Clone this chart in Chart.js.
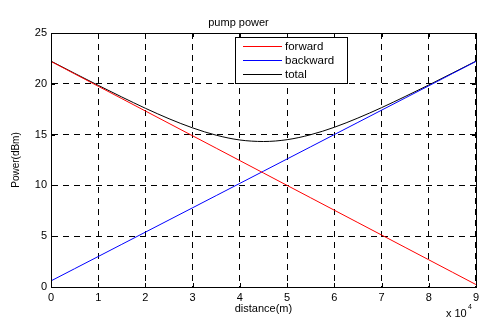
<!DOCTYPE html>
<html>
<head>
<meta charset="utf-8">
<script src="https://cdn.jsdelivr.net/npm/chart.js@4/dist/chart.umd.min.js"></script>
<style>
  html, body { margin: 0; padding: 0; background: #fff; }
</style>
</head>
<body>
<canvas id="pump_chart" width="483" height="328"></canvas>
<script>
// distance in units of 1e4 m
const distance = [0, 0.5, 1, 1.5, 2, 2.5, 3, 3.5, 4, 4.5, 5, 5.5, 6, 6.5, 7, 7.5, 8, 8.5, 9];
// power in dBm
const forward = [22.2, 20.98, 19.76, 18.54, 17.32, 16.1, 14.88, 13.66, 12.44, 11.22, 10.0, 8.78, 7.56, 6.34, 5.12, 3.9, 2.68, 1.46, 0.24];
const backward = [0.6, 1.8, 3.0, 4.2, 5.4, 6.6, 7.8, 9.0, 10.2, 11.4, 12.6, 13.8, 15.0, 16.2, 17.4, 18.6, 19.8, 21.0, 22.2];
const total = [22.23, 21.03, 19.85, 18.7, 17.59, 16.56, 15.66, 14.94, 14.47, 14.32, 14.5, 14.99, 15.72, 16.63, 17.65, 18.75, 19.88, 21.05, 22.23];

const seriesNames = ['forward', 'backward', 'total'];
const seriesColors = ['#ff0000', '#0000ff', '#000000'];

const FONT = 'Liberation Sans, Arial, Helvetica, sans-serif';

function toPoints(ys) {
    return distance.map((x, i) => ({ x: x, y: ys[i] }));
}

//box, inward ticks, exponent label and legend like matlab
const matlabFrame = {
    id: 'matlabFrame',
    afterDraw(chart) {
        const ctx = chart.ctx;
        const a = chart.chartArea;
        const xs = chart.scales.x;
        const ys = chart.scales.y;
        ctx.save();
        ctx.strokeStyle = '#000';
        ctx.lineWidth = 1;
        ctx.setLineDash([]);
        ctx.strokeRect(Math.round(a.left) + 0.5, Math.round(a.top) + 0.5,
            Math.round(a.right - a.left), Math.round(a.bottom - a.top));

        // inward ticks
        ctx.beginPath();
        xs.ticks.forEach(t => {
            const px = Math.round(xs.getPixelForValue(t.value)) + 0.5;
            ctx.moveTo(px, a.bottom); ctx.lineTo(px, a.bottom - 4);
            ctx.moveTo(px, a.top); ctx.lineTo(px, a.top + 4);
        });
        ys.ticks.forEach(t => {
            const py = Math.round(ys.getPixelForValue(t.value)) + 0.5;
            ctx.moveTo(a.left, py); ctx.lineTo(a.left + 4, py);
            ctx.moveTo(a.right, py); ctx.lineTo(a.right - 4, py);
        });
        ctx.stroke();

        // x 10^4
        ctx.fillStyle = '#000';
        ctx.textBaseline = 'middle';
        ctx.textAlign = 'left';
        ctx.font = '11px ' + FONT;
        ctx.fillText('x 10', a.right - 30, 314);
        ctx.font = '7px ' + FONT;
        ctx.fillText('4', a.right - 8, 307);

        // legend
        const lx = a.left + 184, ly = a.top + 4, lw = 112, lh = 46;
        ctx.fillStyle = '#fff';
        ctx.fillRect(lx, ly, lw, lh);
        ctx.strokeRect(lx + 0.5, ly + 0.5, lw, lh);
        ctx.font = '11.5px ' + FONT;
        chart.data.datasets.forEach((ds, i) => {
            const ry = ly + 9 + i * 14;
            ctx.strokeStyle = ds.borderColor;
            ctx.beginPath();
            ctx.moveTo(lx + 8, ry + 0.5);
            ctx.lineTo(lx + 47, ry + 0.5);
            ctx.stroke();
            ctx.fillStyle = '#000';
            ctx.fillText(ds.label, lx + 50, ry + 1);
        });
        ctx.restore();
    }
};

const ctxPump = document.getElementById('pump_chart').getContext('2d');
const pumpChart = new Chart(ctxPump, {
    type: 'line',
    data: {
        datasets: [forward, backward, total].map((ys, i) => ({
            label: seriesNames[i],
            data: toPoints(ys),
            borderColor: seriesColors[i],
            backgroundColor: seriesColors[i],
            borderWidth: 1,
            pointRadius: 0,
            tension: 0,
            cubicInterpolationMode: 'monotone'
        }))
    },
    options: {
        responsive: false,
        animation: false,
        layout: { padding: { left: 0, right: 6, top: 0, bottom: 0 } },
        scales: {
            x: {
                type: 'linear',
                min: 0,
                max: 9,
                afterFit: s => { s.height = 41; },
                ticks: { stepSize: 1, padding: 4, color: '#000', font: { family: FONT, size: 11 } },
                grid: { color: '#000', drawTicks: false, lineWidth: 1 },
                border: { color: '#000', dash: [6, 5] },
                title: { display: true, text: 'distance(m)', color: '#000', padding: { top: 0, bottom: 12.5 }, font: { family: FONT, size: 11 } }
            },
            y: {
                min: 0,
                max: 25,
                afterFit: s => { s.width = 51; },
                ticks: { stepSize: 5, padding: 4, color: '#000', font: { family: FONT, size: 11 } },
                grid: { color: '#000', drawTicks: false, lineWidth: 1 },
                border: { color: '#000', dash: [6, 5] },
                title: { display: true, text: 'Power(dBm)', color: '#000', padding: { top: 10, bottom: 0 }, font: { family: FONT, size: 10 } }
            }
        },
        plugins: {
            title: {
                display: true,
                text: 'pump power',
                color: '#000',
                font: { family: FONT, size: 11, weight: 'normal' },
                padding: { top: 16, bottom: 3.8 }
            },
            legend: { display: false },
            tooltip: { enabled: false }
        }
    },
    plugins: [matlabFrame]
});
</script>
</body>
</html>
